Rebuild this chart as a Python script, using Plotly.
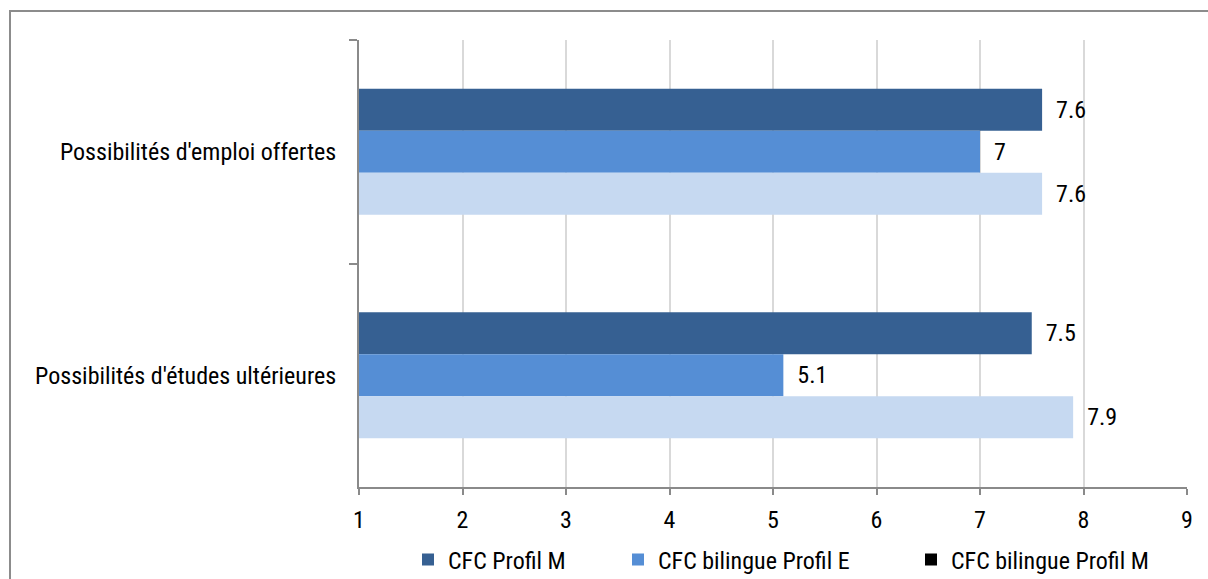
import plotly.graph_objects as go

# Survey scores (scale 1-9) per aspect and training profile
categories = ["Possibilités d'emploi offertes", "Possibilités d'études ultérieures"]
series_names = ["CFC Profil M", "CFC bilingue Profil E", "CFC bilingue Profil M"]
profil_m = [7.6, 7.5]
bilingue_e = [7, 5.1]
bilingue_m = [7.6, 7.9]
x_ticks = [1, 2, 3, 4, 5, 6, 7, 8, 9]

bar_colors = ["#366092", "#558ED5", "#C6D9F1"]
legend_colors = ["#366092", "#558ED5", "#000000"]

FONT = "Roboto Condensed, Liberation Sans, Arial, sans-serif"
FS = 24
GRID = "#d9d9d9"
AXIS = "#8a8a8a"

W, H = 1208, 579
ML, MR, MT, MB = 359, 21, 40, 92

fig = go.Figure()

values = [profil_m, bilingue_e, bilingue_m]
legend_ids = ["legend", "legend2", "legend3"]
for i, (name, vals) in enumerate(zip(series_names, values)):
    fig.add_trace(go.Bar(
        y=categories, x=vals, orientation="h", name=name,
        marker=dict(color=bar_colors[i], line=dict(width=0)),
        texttemplate="\u00a0\u00a0%{x}", textposition="outside",
        textfont=dict(family=FONT, size=FS, color="#000000"),
        constraintext="none", cliponaxis=False,
        showlegend=(i < 2), legend=legend_ids[i], hoverinfo="skip",
    ))

# legend entry for the third series (black swatch)
fig.add_trace(go.Scatter(
    y=[None], x=[None], mode="markers", name=series_names[2],
    marker=dict(symbol="square", size=12, color=legend_colors[2]),
    legend="legend3", showlegend=True, hoverinfo="skip",
))

legend_common = dict(
    orientation="h", yanchor="middle", xanchor="left",
    xref="container", yref="container", y=1 - 560 / H,
    font=dict(family=FONT, size=FS, color="#000000"),
    bgcolor="rgba(0,0,0,0)", borderwidth=0, itemclick=False,
)

fig.update_layout(
    width=W, height=H,
    margin=dict(l=ML, r=MR, t=MT, b=MB, pad=0, autoexpand=False),
    paper_bgcolor="white", plot_bgcolor="white",
    barmode="group", bargap=0.436, bargroupgap=0,
    font=dict(family=FONT, size=FS, color="#000000"),
    xaxis=dict(
        range=[1, 9], tickvals=x_ticks, ticktext=[str(t) for t in x_ticks],
        showgrid=True, gridcolor=GRID, gridwidth=2,
        showline=True, linecolor=AXIS, linewidth=2,
        ticks="outside", ticklen=6, tickwidth=2, tickcolor=AXIS,
        ticklabelstandoff=4, automargin=False,
        tickfont=dict(family=FONT, size=FS, color="#000000"),
        zeroline=False, fixedrange=True,
    ),
    yaxis=dict(
        type="category", categoryorder="array", categoryarray=categories,
        range=[1.5, -0.5], automargin=False,
        showgrid=False, showline=True, linecolor=AXIS, linewidth=2,
        ticks="outside", tickson="boundaries", ticklen=8, tickwidth=2,
        tickcolor=AXIS, ticklabelstandoff=16,
        tickfont=dict(family=FONT, size=FS, color="#000000"),
        fixedrange=True,
    ),
    legend=dict(legend_common, x=408 / W),
    legend2=dict(legend_common, x=618 / W),
    legend3=dict(legend_common, x=911 / W),
    shapes=[dict(
        type="rect", xref="paper", yref="paper",
        xsizemode="pixel", ysizemode="pixel", xanchor=0, yanchor=1,
        x0=10 - ML, x1=W - ML + 20, y0=MT - 11, y1=-(H + 20),
        line=dict(color="#8c8c8c", width=2), fillcolor="rgba(0,0,0,0)",
        layer="above",
    )],
)

fig.write_html("out.html")
